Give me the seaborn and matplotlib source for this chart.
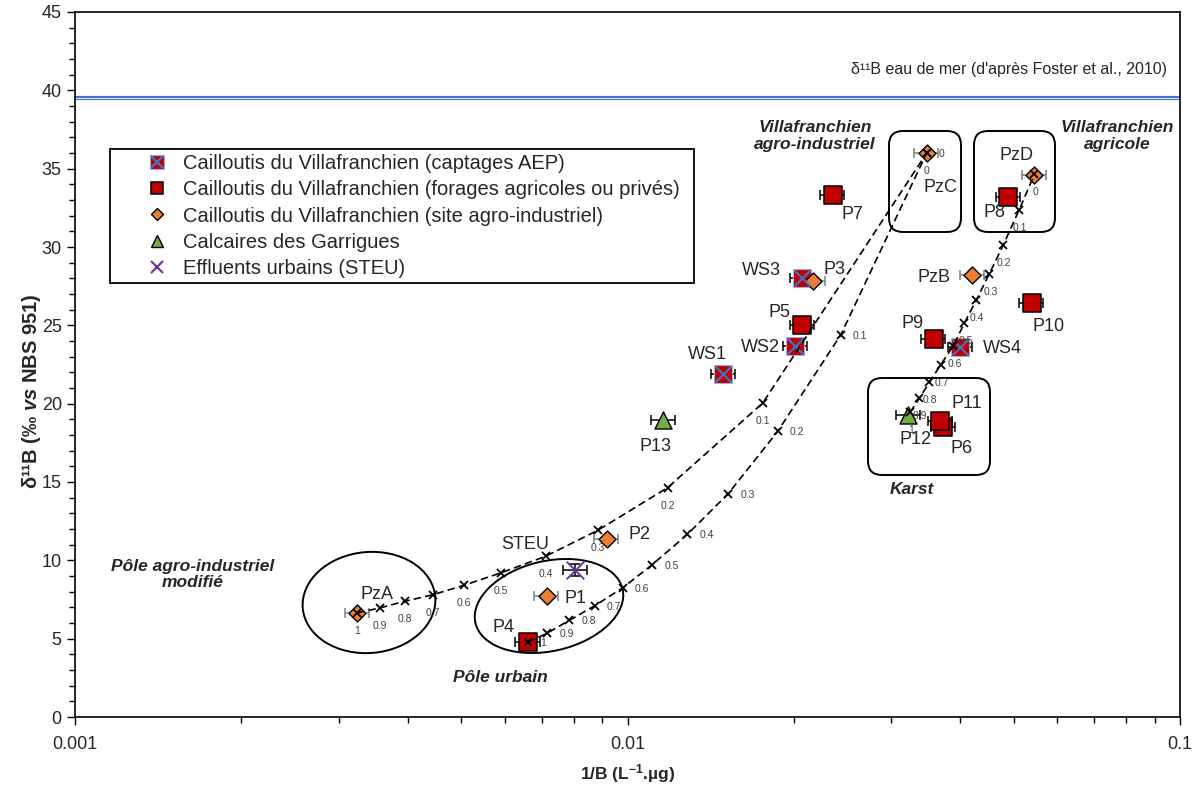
import numpy as np
import pandas as pd
import seaborn as sns
import matplotlib.pyplot as plt
import matplotlib.transforms as mtransforms
from matplotlib.lines import Line2D
from matplotlib.patches import Ellipse, FancyBboxPatch, Rectangle
from matplotlib.legend_handler import HandlerTuple
from matplotlib.ticker import LogLocator, FixedLocator, FixedFormatter, MultipleLocator, NullFormatter

sns.set_theme(style='ticks')
plt.rcParams['font.family'] = ['Liberation Sans', 'DejaVu Sans']
plt.rcParams['mathtext.fontset'] = 'custom'
plt.rcParams['mathtext.rm'] = 'Liberation Sans'
plt.rcParams['mathtext.it'] = 'Liberation Sans:italic'
plt.rcParams['mathtext.bf'] = 'Liberation Sans:bold'
plt.rcParams['mathtext.bfit'] = 'Liberation Sans:italic:bold'

# --- data ---
aep_names = ['WS1', 'WS2', 'WS3', 'WS4']
aep_x = [0.0149, 0.0201, 0.0207, 0.0400]
aep_y = [21.9, 23.7, 28.0, 23.6]

forage_names = ['P4', 'P5', 'P6', 'P7', 'P8', 'P9', 'P10', 'P11']
forage_x = [0.00660, 0.0207, 0.0373, 0.0235, 0.0488, 0.0358, 0.0539, 0.0368]
forage_y = [4.76, 25.05, 18.5, 33.3, 33.2, 24.1, 26.4, 18.9]

agro_names = ['PzA', 'PzB', 'PzC', 'PzD', 'P1', 'P2', 'P3']
agro_x = [0.00324, 0.0420, 0.0348, 0.0545, 0.00714, 0.00917, 0.0217]
agro_y = [6.64, 28.2, 36.0, 34.6, 7.70, 11.38, 27.8]

garrigues_names = ['P12', 'P13']
garrigues_x = [0.0322, 0.0116]
garrigues_y = [19.3, 18.95]

steu_names = ['STEU']
steu_x = [0.00804]
steu_y = [9.37]
steu_yerr = [0.4]

rel_err = 0.05  # relative uncertainty on 1/B
seawater = 39.5

# mixing curves, fraction of first end-member
frac_labels = ['1', '0.9', '0.8', '0.7', '0.6', '0.5', '0.4', '0.3', '0.2', '0.1', '0']
mix_pza_x = [0.00324, 0.00356, 0.00395, 0.00445, 0.00506, 0.00590, 0.00711, 0.00883, 0.01182, 0.01757, 0.0348]
mix_pza_y = [6.64, 6.96, 7.38, 7.81, 8.41, 9.20, 10.26, 11.91, 14.64, 20.04, 36.0]
mix_p4_x = [0.00660, 0.00716, 0.00785, 0.00873, 0.00980, 0.01109, 0.01283, 0.01522, 0.01870, 0.02434, 0.0348]
mix_p4_y = [4.76, 5.36, 6.17, 7.11, 8.24, 9.73, 11.65, 14.26, 18.23, 24.41, 36.0]
mix_karst_x = [0.03245, 0.03375, 0.03517, 0.03690, 0.03889, 0.04071, 0.04275, 0.04519, 0.04786, 0.05112, 0.0545]
mix_karst_y = [19.44, 20.34, 21.36, 22.49, 23.71, 25.14, 26.59, 28.30, 30.11, 32.35, 34.63]

RED = '#C00000'
ORANGE = '#ED7D31'
GREEN = '#70AD47'
PURPLE = '#7030A0'
BLUE = '#4472C4'

W, H = 1204, 789
fig = plt.figure(figsize=(W / 100, H / 100), dpi=100)
ax = fig.add_axes([75 / W, 1 - 717 / H, 1105 / W, 705 / H])
ax.set_xscale('log')
ax.set_xlim(0.001, 0.1)
ax.set_ylim(0, 45)


def px(x, y):
    # image pixel -> figure inches (for shapes drawn in screen space)
    return x / 100, (H - y) / 100


# sea water line
ax.axhline(seawater, color=BLUE, lw=3.0, zorder=1)
ax.axhline(seawater, color='#DDE6F5', lw=0.8, zorder=1)
ax.text(0.988, 41.3, 'δ¹¹B eau de mer (d\'après Foster et al., 2010)', transform=ax.get_yaxis_transform(),
        ha='right', va='center', fontsize=11.5)

# error bars
groups = [
    (aep_x, aep_y, 'black'), (forage_x, forage_y, 'black'), (agro_x, agro_y, '#7f7f7f'),
    (garrigues_x, garrigues_y, 'black'),
]
for gx, gy, ec in groups:
    gx = np.array(gx)
    ax.errorbar(gx, gy, xerr=gx * rel_err, fmt='none', ecolor=ec, elinewidth=1.1, capsize=3.5, capthick=1.1, zorder=2)
sx = np.array(steu_x)
ax.errorbar(sx, steu_y, xerr=sx * rel_err, yerr=steu_yerr, fmt='none', ecolor='black',
            elinewidth=1.1, capsize=3.5, capthick=1.1, zorder=2)

# points
sns.scatterplot(x=forage_x, y=forage_y, marker='s', s=150, color=RED, edgecolor='black', linewidth=1.1, ax=ax, zorder=3)
sns.scatterplot(x=aep_x, y=aep_y, marker='s', s=150, color=RED, edgecolor='#9DB3DE', linewidth=0.8, ax=ax, zorder=3)
sns.scatterplot(x=aep_x, y=aep_y, marker='x', s=130, color=BLUE, linewidth=1.6, ax=ax, zorder=3.5)
sns.scatterplot(x=agro_x, y=agro_y, marker='D', s=75, color=ORANGE, edgecolor='black', linewidth=1.0, ax=ax, zorder=3)
sns.scatterplot(x=garrigues_x, y=garrigues_y, marker='^', s=150, color=GREEN, edgecolor='black', linewidth=1.0, ax=ax, zorder=3)
sns.scatterplot(x=steu_x, y=steu_y, marker='x', s=160, color=PURPLE, linewidth=1.4, ax=ax, zorder=3)

# mixing curves
curves = [
    (mix_pza_x, mix_pza_y, (0, -18), 'center'),
    (mix_p4_x, mix_p4_y, (20, -1), 'left'),
    (mix_karst_x, mix_karst_y, (1, -18), 'center'),
]
for cx, cy, off, ha in curves:
    sns.lineplot(x=cx, y=cy, sort=False, estimator=None, color='black', lw=1.2,
                 linestyle=(0, (4.5, 2.5)), marker='x', markersize=6, markeredgewidth=1.3,
                 markeredgecolor='black', ax=ax, zorder=4)
    for xv, yv, lab in zip(cx, cy, frac_labels):
        dx = off[0] - 8 if ha == 'left' else off[0]
        ax.annotate(lab, (xv, yv), xytext=(dx, off[1]), textcoords='offset pixels',
                    ha=ha, va='center', fontsize=7.5, color='#404040', zorder=5)

# point labels (offset in pixels, image y downward)
label_off = {
    'WS1': (-16, -19), 'WS2': (-35, 2), 'WS3': (-41, -8), 'WS4': (42, 1),
    'P1': (29, 2), 'P2': (33, -4), 'P3': (21, -12), 'P4': (-24, -15), 'P5': (-23, -12),
    'P6': (18, 21), 'P7': (20, 19), 'P8': (-13, 16), 'P9': (-21, -16), 'P10': (17, 23),
    'P11': (27, -17), 'P12': (7, 25), 'P13': (-8, 26),
    'PzA': (20, -18), 'PzB': (-38, 2), 'PzC': (14, 34), 'PzD': (-18, -19), 'STEU': (-50, -26),
}
for names, gx, gy in [(aep_names, aep_x, aep_y), (forage_names, forage_x, forage_y),
                      (agro_names, agro_x, agro_y), (garrigues_names, garrigues_x, garrigues_y),
                      (steu_names, steu_x, steu_y)]:
    for n, xv, yv in zip(names, gx, gy):
        dx, dy = label_off[n]
        ax.annotate(n, (xv, yv), xytext=(dx, -dy), textcoords='offset pixels',
                    ha='center', va='center', fontsize=13, zorder=6)

# zone annotations
bi = dict(fontsize=12.5, fontweight='bold', fontstyle='italic', ha='center', va='center', linespacing=1.15)
ax.text(0.02185, 37.1, 'Villafranchien\nagro-industriel', **bi)
ax.text(0.0769, 37.1, 'Villafranchien\nagricole', **bi)
ax.text(0.0327, 14.5, 'Karst', **bi)
ax.text(0.001635, 9.1, 'Pôle agro-industriel\nmodifié', **bi)
ax.text(0.00588, 2.55, 'Pôle urbain', **bi)

# ellipses and rounded boxes drawn in screen space
for (cx_, cy_), w_, h_, ang in [((369, 602.5), 133, 101, 5), ((549, 606), 151, 90, 13)]:
    tr = fig.dpi_scale_trans + mtransforms.ScaledTranslation(*px(cx_, cy_), fig.dpi_scale_trans)
    ax.add_patch(Ellipse((0, 0), w_ / 100, h_ / 100, angle=ang, transform=tr,
                         fill=False, ec='black', lw=1.4, zorder=2.5, clip_on=False))
for x0, y0, x1, y1 in [(889, 131, 961, 232), (974, 131, 1055, 232), (868, 378, 990, 475)]:
    ax.add_patch(FancyBboxPatch(px(x0, y1), (x1 - x0) / 100, (y1 - y0) / 100,
                                boxstyle='round,pad=0,rounding_size=0.14', transform=fig.dpi_scale_trans,
                                fill=False, ec='black', lw=1.4, zorder=2.5, clip_on=False))

# legend
h_aep = (Line2D([], [], marker='s', ls='', ms=10, mfc=RED, mec='#9DB3DE', mew=0.8),
         Line2D([], [], marker='x', ls='', ms=9, mec=BLUE, mew=1.7))
h_for = Line2D([], [], marker='s', ls='', ms=9, mfc=RED, mec='black', mew=1.1)
h_agr = Line2D([], [], marker='D', ls='', ms=6.5, mfc=ORANGE, mec='black', mew=1.0)
h_gar = Line2D([], [], marker='^', ls='', ms=9, mfc=GREEN, mec='black', mew=1.0)
h_st = Line2D([], [], marker='x', ls='', ms=9, mec=PURPLE, mew=1.5)
leg = ax.legend([h_aep, h_for, h_agr, h_gar, h_st],
                ['Cailloutis du Villafranchien (captages AEP)',
                 'Cailloutis du Villafranchien (forages agricoles ou privés)',
                 'Cailloutis du Villafranchien (site agro-industriel)',
                 'Calcaires des Garrigues',
                 'Effluents urbains (STEU)'],
                handler_map={tuple: HandlerTuple(ndivide=1, pad=0)},
                loc='upper left', bbox_to_anchor=((137 - 75) / 1105, (717 - 154) / 705),
                frameon=False, borderpad=0, borderaxespad=0, handlelength=2.0,
                handletextpad=0.3, labelspacing=0.36, fontsize=14.5)
ax.add_patch(Rectangle(((110 - 75) / 1105, (717 - 283) / 705), 584 / 1105, 134 / 705,
                       transform=ax.transAxes, fill=False, ec='black', lw=1.3, zorder=6))

# axes styling
for sp in ax.spines.values():
    sp.set_visible(True)
    sp.set_color('black')
    sp.set_linewidth(1.2)
ax.xaxis.set_major_locator(FixedLocator([0.001, 0.01, 0.1]))
ax.xaxis.set_major_formatter(FixedFormatter(['0.001', '0.01', '0.1']))
ax.xaxis.set_minor_locator(LogLocator(base=10, subs=np.arange(2, 10)))
ax.xaxis.set_minor_formatter(NullFormatter())
ax.yaxis.set_major_locator(MultipleLocator(5))
ax.yaxis.set_minor_locator(MultipleLocator(1))
ax.tick_params(which='both', direction='out', color='black', width=1.0, labelsize=13)
ax.tick_params(which='major', length=6)
ax.tick_params(which='minor', length=4)
ax.tick_params(axis='x', pad=8)
ax.set_xlabel(r'1/B (L$^{\mathbf{-1}}$.µg)', fontsize=12.5, fontweight='bold', labelpad=6)
ax.set_ylabel(r'δ¹¹B (‰ $\mathbfit{vs}$ NBS 951)', fontsize=14.5, fontweight='bold')
ax.yaxis.set_label_coords(-0.029, 0.462)

fig.savefig('out.png', dpi=100)
